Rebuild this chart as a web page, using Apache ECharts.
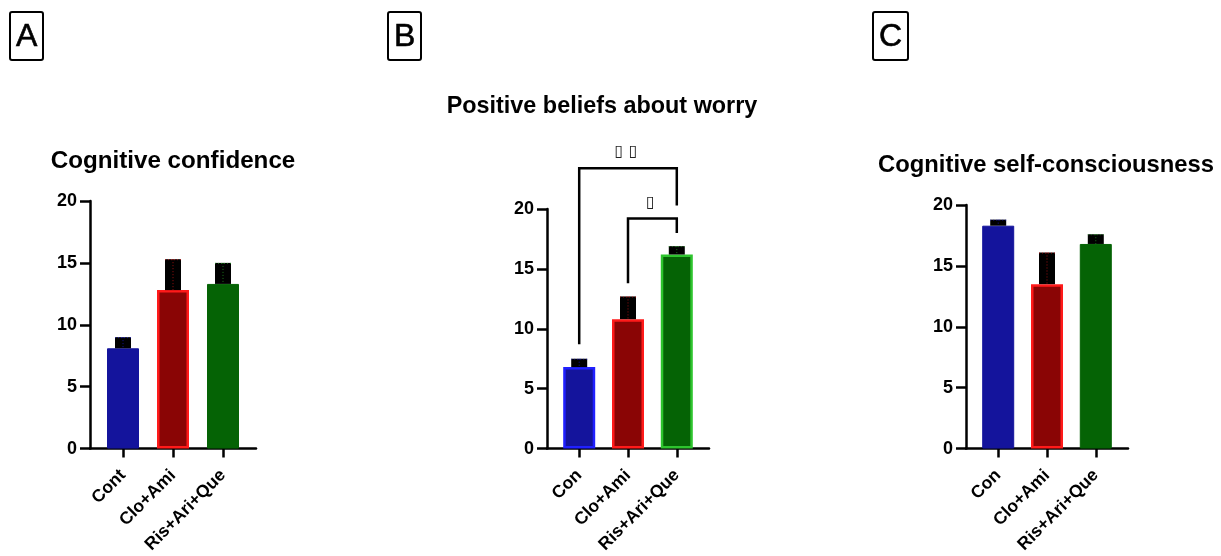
<!DOCTYPE html>
<html>
<head>
<meta charset="utf-8">
<script src="https://cdn.jsdelivr.net/npm/echarts@6/dist/echarts.min.js"></script>
<style>
html, body { margin: 0; padding: 0; background: #fff; }
#chart-container { width: 1221px; height: 556px; }
</style>
</head>
<body>
<div id="chart-container"></div>
<script>
// groups / values
const groupsA = ['Cont', 'Clo+Ami', 'Ris+Ari+Que'];
const groupsBC = ['Con', 'Clo+Ami', 'Ris+Ari+Que'];
const positions = [1, 2, 3];
const yTicks = [0, 5, 10, 15, 20];

const meanA = [8.1, 12.8, 13.3];
const upperA = [9.0, 15.3, 15.0];
const meanB = [6.8, 10.8, 16.2];
const upperB = [7.5, 12.7, 16.9];
const meanC = [18.3, 13.5, 16.8];
const upperC = [18.8, 16.1, 17.6];

// significance brackets (panel B)
const bracketFrom = [1, 2];
const bracketTo = [3, 3];
const bracketTop = [23.4, 19.2];
const bracketLegFrom = [8.7, 13.8];
const bracketLegTo = [20.3, 18.0];
const bracketMark = ['\u25AF \u25AF', '\u25AF'];

const titles = ['Cognitive confidence', 'Positive beliefs about worry', 'Cognitive self-consciousness'];
const panelLetters = ['A', 'B', 'C'];

const FONT = '"Liberation Sans", Arial, sans-serif';
const fills = ['#14149c', '#8a0505', '#056305'];
const edges = ['#2020ff', '#ff1a1a', '#2ec42e'];

const gridBoxes = [
	{ left: 90, top: 201, width: 166, height: 249 },
	{ left: 547, top: 209, width: 162, height: 240 },
	{ left: 966, top: 205, width: 162, height: 245 }
];
const titlePos = [[173, 148], [602, 94], [1046, 152]];
const titleSize = [24.2, 23.4, 23.8];
const letterPos = [10, 388, 873];
// which bars get the bright outline, per panel
const outlined = [[false, true, false], [true, true, true], [false, true, false]];

const panels = [
	{ names: groupsA, mean: meanA, upper: upperA },
	{ names: groupsBC, mean: meanB, upper: upperB },
	{ names: groupsBC, mean: meanC, upper: upperC }
];

let option = {
	animation: false,
	backgroundColor: '#fff',
	title: [],
	grid: [],
	xAxis: [],
	yAxis: [],
	series: []
};

panels.forEach((p, i) => {
	option.grid.push(Object.assign({ containLabel: false }, gridBoxes[i]));

	option.title.push({
		text: titles[i], left: titlePos[i][0], top: titlePos[i][1], textAlign: 'center', padding: 0,
		textStyle: { fontFamily: FONT, fontSize: titleSize[i], fontWeight: 'bold', color: '#000', lineHeight: 26 }
	});
	option.title.push({
		text: panelLetters[i], left: letterPos[i], top: 12, padding: [9, 6, 7, 6],
		borderWidth: 2, borderColor: '#000', borderRadius: 2,
		textStyle: { fontFamily: FONT, fontSize: 32, fontWeight: 'normal', color: '#000', lineHeight: 32,
			textBorderColor: '#000', textBorderWidth: 0.6 }
	});

	option.xAxis.push({
		type: 'value', gridIndex: i, min: 0.34, max: 3.66,
		splitLine: { show: false },
		axisLine: { lineStyle: { color: '#000', width: 2.5 } },
		axisTick: { customValues: positions, length: 9, lineStyle: { color: '#000', width: 2.5 } },
		axisLabel: {
			customValues: positions, rotate: 45, margin: 24, color: '#000',
			fontFamily: FONT, fontSize: 17.5, fontWeight: 'bold',
			formatter: v => p.names[Math.round(v) - 1]
		}
	});
	option.yAxis.push({
		type: 'value', gridIndex: i, min: yTicks[0], max: yTicks[yTicks.length - 1], interval: 5,
		splitLine: { show: false },
		axisLine: { show: true, onZero: false, lineStyle: { color: '#000', width: 2.5 } },
		axisTick: { show: true, length: 10, lineStyle: { color: '#000', width: 2.5 } },
		axisLabel: { margin: 13, color: '#000', fontFamily: FONT, fontSize: 18, fontWeight: 'bold' }
	});

	option.series.push({
		type: 'bar', xAxisIndex: i, yAxisIndex: i, barWidth: 32, z: 2,
		data: positions.map((x, k) => ({
			value: [x, p.mean[k]],
			itemStyle: {
				color: fills[k],
				borderColor: outlined[i][k] ? edges[k] : fills[k],
				borderWidth: outlined[i][k] ? 2.5 : 1
			}
		}))
	});

	// error bars: black block from mean up to mean + SD
	option.series.push({
		type: 'custom', xAxisIndex: i, yAxisIndex: i, z: 3, clip: false,
		encode: { x: 0, y: [1, 2] },
		data: positions.map((x, k) => [x, p.mean[k], p.upper[k]]),
		renderItem: (params, api) => {
			const x = api.value(0);
			const lo = api.coord([x, api.value(1)]);
			const hi = api.coord([x, api.value(2)]);
			const w = 16;
			const c = edges[params.dataIndex];
			return {
				type: 'group',
				children: [
					{ type: 'rect', shape: { x: lo[0] - w / 2, y: hi[1], width: w, height: lo[1] - hi[1] }, style: { fill: '#000' } },
					{ type: 'line', shape: { x1: lo[0], y1: hi[1], x2: lo[0], y2: lo[1] }, style: { stroke: c, opacity: 0.6, lineWidth: 1, lineDash: [1, 2] } },
					{ type: 'line', shape: { x1: lo[0] - w / 2, y1: hi[1] + 0.5, x2: lo[0] + w / 2, y2: hi[1] + 0.5 }, style: { stroke: c, opacity: 0.6, lineWidth: 1, lineDash: [1, 2] } }
				]
			};
		}
	});
});

// brackets on panel B
option.series.push({
	type: 'custom', xAxisIndex: 1, yAxisIndex: 1, z: 4, clip: false,
	encode: { x: [0, 1], y: [2, 3, 4] },
	data: bracketFrom.map((f, k) => [f, bracketTo[k], bracketTop[k], bracketLegFrom[k], bracketLegTo[k]]),
	renderItem: (params, api) => {
		const a = api.coord([api.value(0), api.value(3)]);
		const b = api.coord([api.value(0), api.value(2)]);
		const c = api.coord([api.value(1), api.value(2)]);
		const d = api.coord([api.value(1), api.value(4)]);
		return {
			type: 'group',
			children: [
				{ type: 'polyline', shape: { points: [a, b, c, d] }, style: { stroke: '#000', lineWidth: 2.5, fill: null } },
				{ type: 'text', x: (b[0] + c[0]) / 2 - 2, y: b[1] - 16,
				  style: { text: bracketMark[params.dataIndex], fill: '#222', font: 'bold 16px "DejaVu Sans"', align: 'center', verticalAlign: 'middle' } }
			]
		};
	}
});

const myChart = echarts.init(document.getElementById('chart-container'));
myChart.setOption(option);
</script>
</body>
</html>
